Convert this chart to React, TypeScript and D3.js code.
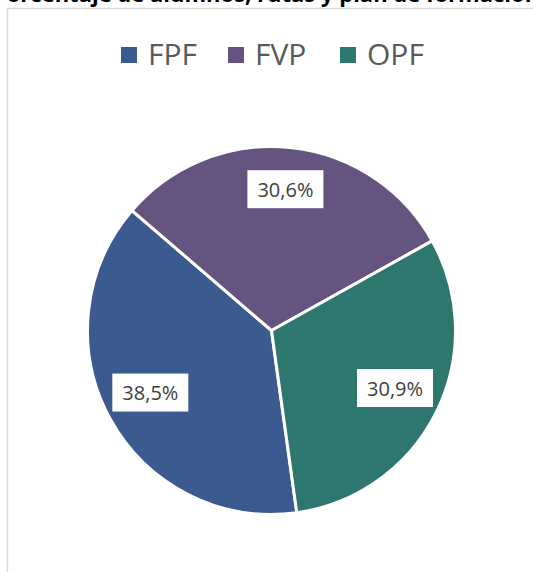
import React from "react";
import * as d3 from "d3";

const categories = ["FPF", "FVP", "OPF"];
const values = [38.5, 30.6, 30.9];
const labels = ["38,5%", "30,6%", "30,9%"];
const colors = ["#3a5a90", "#665480", "#2e776f"];
const titleText = "Porcentaje de alumnos, rutas y plan de formación";

const W = 533;
const H = 572;

export default function App() {
  const cx = 271.5;
  const cy = 330.5;
  const R = 184;
  const startDeg = 172.1;
  const pie = d3
    .pie<number>()
    .sort(null)
    .startAngle((startDeg * Math.PI) / 180)
    .endAngle(((startDeg + 360) * Math.PI) / 180);
  const arcs = pie(values);
  const arc = d3.arc<d3.PieArcDatum<number>>().innerRadius(0).outerRadius(R);
  const labelArc = d3
    .arc<d3.PieArcDatum<number>>()
    .innerRadius(138)
    .outerRadius(138);

  const legendX = d3.scaleOrdinal<string, number>().domain(categories).range([121, 228, 340]);

  return (
    <svg
      width={W}
      height={H}
      style={{ position: "absolute", left: 0, top: 0, background: "#fff" }}
      fontFamily="'Open Sans', sans-serif"
    >
      <text
        x={266}
        y={2}
        textAnchor="middle"
        fontSize={22}
        fontWeight="bold"
        fill="#000"
      >
        {titleText}
      </text>
      <line x1={7} y1={8.5} x2={W} y2={8.5} stroke="#d9d9d9" strokeWidth={1.5} />
      <line x1={7.5} y1={8} x2={7.5} y2={H} stroke="#d9d9d9" strokeWidth={1.5} />

      {categories.map((c, i) => (
        <g key={c}>
          <rect x={legendX(c)} y={47} width={16} height={16} fill={colors[i]} />
          <text x={legendX(c) + 27} y={65} fontSize={30} fill="#595959">
            {c}
          </text>
        </g>
      ))}

      <g transform={`translate(${cx},${cy})`}>
        {arcs.map((a, i) => (
          <path key={i} d={arc(a) || ""} fill={colors[i]} stroke="#fff" strokeWidth={3} strokeLinejoin="round" />
        ))}
        {arcs.map((a, i) => {
          const [lx, ly] = labelArc.centroid(a);
          return (
            <g key={"l" + i} transform={`translate(${lx},${ly - 4})`}>
              <rect x={-38} y={-19} width={76} height={38} fill="#fff" />
              <text x={0} y={7.5} textAnchor="middle" fontSize={20} fill="#404040">
                {labels[i]}
              </text>
            </g>
          );
        })}
      </g>
    </svg>
  );
}
